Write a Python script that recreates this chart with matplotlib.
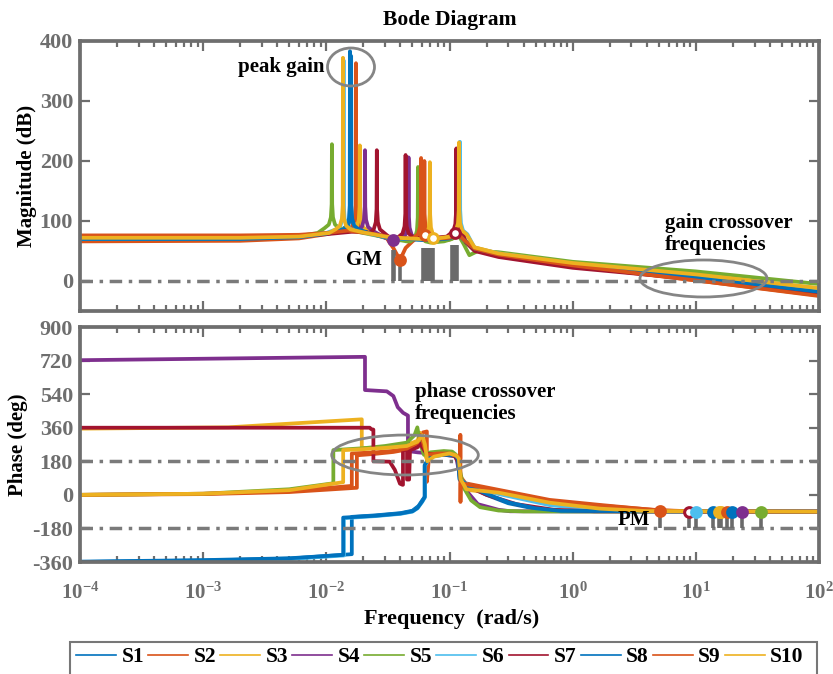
import matplotlib
matplotlib.use("Agg")
import numpy as np
import matplotlib.pyplot as plt
from matplotlib.patches import Ellipse, Rectangle
from matplotlib.lines import Line2D
from matplotlib.ticker import LogFormatterSciNotation, FixedLocator, NullFormatter

plt.rcParams.update({
    "font.family": ["Liberation Serif", "DejaVu Serif"],
    "font.weight": "bold",
    "mathtext.fontset": "custom",
    "mathtext.rm": "Liberation Serif:bold",
    "mathtext.it": "Liberation Serif:bold:italic",
    "mathtext.bf": "Liberation Serif:bold",
    "mathtext.default": "rm",
    "axes.unicode_minus": False,
})

# ---------------------------------------------------------------- series
series_names = ["S1", "S2", "S3", "S4", "S5", "S6", "S7", "S8", "S9", "S10"]
series_colors = ["#0072BD", "#D95319", "#EDB120", "#7E2F8E", "#77AC30",
                 "#4DBEEE", "#A2142F", "#0072BD", "#D95319", "#EDB120"]
freq_decades = [1e-4, 1e-3, 1e-2, 1e-1, 1e0, 1e1, 1e2]

# ---------------------------------------------------------------- magnitude (dB)
# smooth part of each magnitude curve
S1_mag_f = [1e-4, 2e-3, 6e-3, 0.010, 0.022, 0.030, 0.045, 0.070, 0.100, 0.117, 0.130, 0.160, 0.25, 1.0, 10.0, 100.0]
S1_mag_db = [69, 70, 73, 79, 80, 73, 70, 68, 71, 79, 70, 55, 45, 28, 6, -18]
S2_mag_f = [1e-4, 2e-3, 6e-3, 0.010, 0.024, 0.031, 0.035, 0.0396, 0.044, 0.050, 0.075, 0.100, 0.117, 0.130, 0.160, 0.25, 1.0, 10.0, 100.0]
S2_mag_db = [66, 67, 71, 78, 78, 71, 55, 35, 55, 66, 65, 69, 77, 68, 53, 44, 25, 1, -24]
S3_mag_f = [1e-4, 2e-3, 6e-3, 0.010, 0.015, 0.025, 0.035, 0.050, 0.060, 0.085, 0.105, 0.117, 0.130, 0.160, 0.25, 1.0, 10.0, 100.0]
S3_mag_db = [71, 72, 75, 80, 85, 79, 72, 70, 70, 70, 72, 79, 70, 56, 46, 30, 11, -12]
S4_mag_f = [1e-4, 2e-3, 6e-3, 0.010, 0.015, 0.030, 0.0345, 0.040, 0.060, 0.080, 0.105, 0.117, 0.130, 0.160, 0.25, 1.0, 10.0, 100.0]
S4_mag_db = [72, 72, 74, 79, 84, 72, 68, 68, 69, 70, 72, 79, 68, 52, 44, 27, 5, -19]
S5_mag_f = [1e-4, 2e-3, 6e-3, 0.0085, 0.016, 0.025, 0.035, 0.045, 0.070, 0.090, 0.105, 0.117, 0.130, 0.145, 0.170, 0.25, 1.0, 10.0, 100.0]
S5_mag_db = [70, 71, 75, 80, 84, 76, 70, 66, 64, 66, 70, 78, 62, 43, 50, 48, 32, 16, -5]
S6_mag_f = [1e-4, 2e-3, 6e-3, 0.010, 0.020, 0.030, 0.045, 0.070, 0.095, 0.130, 0.160, 0.25, 1.0, 10.0, 100.0]
S6_mag_db = [70, 71, 74, 80, 81, 73, 70, 69, 73, 70, 55, 46, 29, 8, -16]
S7_mag_f = [1e-4, 2e-3, 6e-3, 0.010, 0.016, 0.021, 0.032, 0.036, 0.055, 0.075, 0.095, 0.135, 0.160, 0.25, 1.0, 10.0, 100.0]
S7_mag_db = [74, 74, 75, 78, 82, 82, 74, 73, 72, 72, 74, 65, 50, 40, 22, 3, -22]
S8_mag_f = [1e-4, 2e-3, 6e-3, 0.010, 0.022, 0.030, 0.045, 0.070, 0.100, 0.117, 0.130, 0.160, 0.25, 1.0, 10.0, 100.0]
S8_mag_db = [70, 70, 73, 79, 80, 73, 70, 68, 71, 78, 69, 54, 45, 28, 6, -18]
S9_mag_f = [1e-4, 2e-3, 6e-3, 0.010, 0.015, 0.025, 0.035, 0.050, 0.075, 0.100, 0.117, 0.130, 0.160, 0.25, 1.0, 10.0, 100.0]
S9_mag_db = [76, 76, 77, 80, 84, 78, 72, 71, 70, 72, 79, 69, 54, 44, 26, 1, -25]
S10_mag_f = [1e-4, 2e-3, 6e-3, 0.0105, 0.020, 0.030, 0.045, 0.060, 0.080, 0.100, 0.135, 0.160, 0.25, 1.0, 10.0, 100.0]
S10_mag_db = [72, 72, 74, 80, 81, 74, 71, 70, 71, 74, 68, 56, 46, 30, 11, -12]

# resonance peaks: frequency, peak height, level at the foot of the peak
S1_pk_f, S1_pk_top, S1_pk_foot = [0.01556], [383], [86]
S2_pk_f, S2_pk_top, S2_pk_foot = [0.0174, 0.0625], [363, 200], [86, 72]
S3_pk_f, S3_pk_top, S3_pk_foot = [0.0187, 0.0693], [226, 198], [84, 71]
S4_pk_f, S4_pk_top, S4_pk_foot = [0.0206, 0.0465], [218, 206], [84, 71]
S5_pk_f, S5_pk_top, S5_pk_foot = [0.0111, 0.0555], [228, 190], [88, 66]
S6_pk_f, S6_pk_top, S6_pk_foot = [0.0138, 0.1215], [368, 232], [86, 78]
S7_pk_f, S7_pk_top, S7_pk_foot = [0.0257, 0.044, 0.1137], [218, 210, 221], [80, 73, 77]
S8_pk_f, S8_pk_top, S8_pk_foot = [0.0159], [375], [86]
S9_pk_f, S9_pk_top, S9_pk_foot = [0.0588], [205], [72]
S10_pk_f, S10_pk_top, S10_pk_foot = [0.01365, 0.1195], [372, 231], [86, 78]

# ---------------------------------------------------------------- phase (deg)
S1_ph_f = [1e-4, 1e-3, 5e-3, 0.0161, 0.0161, 0.025, 0.040, 0.050, 0.056, 0.060, 0.0632, 0.0632, 0.070, 0.090, 0.110, 0.117, 0.121, 0.140, 0.200, 0.300, 0.500, 0.800, 100]
S1_ph_deg = [-360, -352, -342, -318, -118, -110, -98, -85, -60, -30, -10, 150, 205, 215, 210, 192, 80, 50, 0, -45, -75, -88, -90]
S2_ph_f = [1e-4, 1e-3, 5e-3, 0.0177, 0.0177, 0.025, 0.035, 0.045, 0.055, 0.061, 0.0655, 0.0655, 0.068, 0.075, 0.090, 0.110, 0.117, 0.122, 0.135, 0.250, 0.650, 1.67, 5.1, 10, 100]
S2_ph_deg = [0, 4, 15, 38, 212, 220, 230, 243, 270, 335, 340, 70, 195, 212, 220, 215, 200, 100, 62, 27, -27, -54, -84, -89, -90]
S3_ph_f = [1e-4, 1.6e-3, 0.0194, 0.0194, 0.025, 0.035, 0.045, 0.055, 0.0576, 0.060, 0.062, 0.066, 0.075, 0.100, 0.113, 0.119, 0.123, 0.137, 0.250, 0.650, 1.67, 4.0, 100]
S3_ph_deg = [355, 362, 405, 252, 250, 258, 268, 290, 333, 290, 230, 185, 212, 222, 210, 190, 80, 27, 8, -45, -76, -88, -90]
S4_ph_f = [1e-4, 0.0206, 0.0206, 0.031, 0.035, 0.038, 0.042, 0.046, 0.046, 0.055, 0.070, 0.100, 0.113, 0.120, 0.130, 0.170, 0.250, 0.310, 100]
S4_ph_deg = [722, 740, 562, 555, 530, 470, 440, 425, 235, 228, 222, 218, 205, 120, 40, -50, -80, -88, -90]
S5_ph_f = [1e-4, 1e-3, 5e-3, 0.0114, 0.0114, 0.020, 0.030, 0.045, 0.052, 0.0548, 0.058, 0.062, 0.070, 0.090, 0.105, 0.113, 0.120, 0.130, 0.150, 0.177, 0.250, 0.400, 100]
S5_ph_deg = [0, 6, 30, 62, 240, 250, 262, 280, 320, 362, 270, 215, 228, 235, 232, 215, 150, 40, -30, -66, -84, -89, -90]
S6_ph_f = [1e-4, 1e-3, 5e-3, 0.0139, 0.0139, 0.025, 0.040, 0.050, 0.055, 0.060, 0.0630, 0.0630, 0.070, 0.090, 0.110, 0.117, 0.121, 0.140, 0.250, 0.650, 1.67, 3.0, 100]
S6_ph_deg = [-362, -354, -344, -325, -125, -114, -102, -90, -72, -38, -15, 155, 208, 214, 210, 194, 82, 55, 5, -55, -82, -89, -90]
S7_ph_f = [1e-4, 0.0225, 0.0232, 0.0241, 0.0241, 0.0327, 0.036, 0.0396, 0.0415, 0.0419, 0.0419, 0.0452, 0.0452, 0.047, 0.0478, 0.055, 0.0576, 0.065, 0.090, 0.110, 0.117, 0.122, 0.135, 0.200, 0.350, 0.700, 1.5, 100]
S7_ph_deg = [360, 360, 352, 350, 180, 178, 134, 60, 54, 54, 242, 242, 82, 82, 240, 255, 275, 220, 215, 208, 180, 80, 50, 0, -50, -80, -88, -90]
S8_ph_f = [1e-4, 1e-3, 5e-3, 0.0137, 0.0137, 0.025, 0.040, 0.050, 0.055, 0.060, 0.0628, 0.0628, 0.070, 0.090, 0.110, 0.117, 0.121, 0.140, 0.200, 0.300, 0.500, 0.800, 100]
S8_ph_deg = [-358, -350, -340, -322, -122, -112, -100, -88, -70, -35, -12, 160, 210, 215, 212, 195, 85, 52, 5, -40, -72, -86, -90]
S9_ph_f = [1e-4, 1e-3, 5e-3, 0.0161, 0.0161, 0.025, 0.035, 0.045, 0.055, 0.059, 0.062, 0.066, 0.080, 0.100, 0.118, 0.1225, 0.1225, 0.1228, 0.1232, 0.135, 0.250, 0.650, 1.67, 5.0, 10, 100]
S9_ph_deg = [0, 6, 20, 48, 222, 228, 236, 248, 280, 322, 262, 215, 222, 222, 205, 195, 322, -38, 65, 58, 22, -32, -58, -82, -89, -90]
S10_ph_f = [1e-4, 1e-3, 5e-3, 0.0137, 0.0137, 0.020, 0.030, 0.045, 0.055, 0.060, 0.0632, 0.066, 0.075, 0.100, 0.113, 0.119, 0.123, 0.137, 0.250, 0.650, 1.67, 4.0, 100]
S10_ph_deg = [0, 6, 25, 68, 240, 245, 252, 262, 285, 320, 270, 180, 205, 222, 212, 195, 85, 30, 12, -42, -74, -87, -90]

# ---------------------------------------------------------------- stability margins
# gain margin points (frequency, magnitude) and their series
gm_series = ["S4", "S2", "S9", "S10", "S7"]
gm_f = [0.0345, 0.0396, 0.0632, 0.0734, 0.111]
gm_db = [68, 35, 77, 72, 80]
gm_line_f = [0.0345, 0.0356, 0.0396, 0.061, 0.063, 0.065, 0.067, 0.069, 0.071, 0.073, 0.105, 0.108, 0.111, 0.114]
gm_line_top = [52, 52, 30, 55, 55, 55, 55, 55, 55, 55, 60, 60, 60, 60]

# phase margin points (gain crossover frequency, phase) per series
pm_series = ["S2", "S7", "S6", "S1", "S10", "S3", "S9", "S8", "S4", "S5"]
pm_f = [5.1, 8.8, 10.0, 13.9, 15.3, 15.9, 17.9, 19.7, 23.9, 34.0]
pm_deg = [-84, -91, -91, -91, -91, -91, -91, -91, -91, -91]
pm_line_top = -104

mag_data = {n: (globals()[n + "_mag_f"], globals()[n + "_mag_db"],
                globals()[n + "_pk_f"], globals()[n + "_pk_top"], globals()[n + "_pk_foot"])
            for n in series_names}
ph_data = {n: (globals()[n + "_ph_f"], globals()[n + "_ph_deg"]) for n in series_names}
color_of = dict(zip(series_names, series_colors))

# relative shape of a lightly damped resonance (frequency ratio, rise above foot)
SKIRT_RATIO = [1 / 1.15, 1 / 1.06, 1 / 1.02, 1 / 1.005]
SKIRT_RISE = [0, 6, 18, 40]


def magnitude_path(f, db, pk_f, pk_top, pk_foot):
    pts = list(zip(f, db))
    for f0, top, foot in zip(pk_f, pk_top, pk_foot):
        lo, hi = f0 * SKIRT_RATIO[0], f0 / SKIRT_RATIO[0]
        pts = [p for p in pts if not (lo < p[0] < hi)]
        left = [(f0 * r, foot + d) for r, d in zip(SKIRT_RATIO, SKIRT_RISE)]
        right = [(f0 / r, foot + d) for r, d in zip(SKIRT_RATIO, SKIRT_RISE)]
        pts += left + [(f0, top)] + right
    pts.sort(key=lambda p: p[0])
    return [p[0] for p in pts], [p[1] for p in pts]


# ---------------------------------------------------------------- figure
W, H = 833, 674
fig = plt.figure(figsize=(W / 100, H / 100), dpi=100)


def fig_box(l, t, r, b):
    return [l / W, 1 - b / H, (r - l) / W, (b - t) / H]


ax_mag = fig.add_axes(fig_box(80, 41, 819, 311))
ax_ph = fig.add_axes(fig_box(80, 327, 819, 562))

AX_GRAY = "#6e6e6e"
REF_GRAY = "#7a7a7a"
LW = 2.7

for name in series_names:
    fx, fy = magnitude_path(*mag_data[name])
    ax_mag.plot(fx, fy, color=color_of[name], lw=LW, zorder=2, solid_joinstyle="round")
    px, py = ph_data[name]
    ax_ph.plot(px, py, color=color_of[name], lw=LW, zorder=2, solid_joinstyle="round")

# reference levels
dash = (0, (3.6, 1.9, 1.0, 1.9))
ax_mag.axhline(0, color=REF_GRAY, lw=2.5, ls=dash, zorder=3)
ax_ph.axhline(180, color=REF_GRAY, lw=2.5, ls=dash, zorder=3)
ax_ph.axhline(-180, color=REF_GRAY, lw=2.5, ls=dash, zorder=3)

# gain margin stems and markers
ax_mag.vlines(gm_line_f, 0, gm_line_top, colors="#6a6a6a", lw=2.6, zorder=3)
for s, f, v in zip(gm_series, gm_f, gm_db):
    hollow = s in ("S9", "S10", "S7")
    ax_mag.plot([f], [v], "o", ms=7, mew=2.2, color=color_of[s],
                mfc="white" if hollow else color_of[s], zorder=4)

# phase margin stems and markers
ax_ph.vlines(pm_f, -180, pm_line_top, colors="#6a6a6a", lw=2.6, zorder=3)
for s, f, v in zip(pm_series, pm_f, pm_deg):
    hollow = s == "S7"
    ax_ph.plot([f], [v], "o", ms=7, mew=2.2, color=color_of[s],
               mfc="white" if hollow else color_of[s], zorder=4)

# axes styling
minor_ticks = [d * k for d in freq_decades[:-1] for k in range(2, 10)]
for ax in (ax_mag, ax_ph):
    ax.set_xscale("log")
    ax.set_xlim(freq_decades[0], freq_decades[-1])
    ax.xaxis.set_major_locator(FixedLocator(freq_decades))
    ax.xaxis.set_minor_locator(FixedLocator(minor_ticks))
    ax.xaxis.set_minor_formatter(NullFormatter())
    ax.tick_params(which="both", direction="in", top=True, right=True,
                   color=AX_GRAY, width=1.6, labelcolor=AX_GRAY, labelsize=16)
    ax.tick_params(which="major", length=7)
    ax.tick_params(which="minor", length=4)
    for sp in ax.spines.values():
        sp.set_linewidth(2.7)
        sp.set_color(AX_GRAY)

ax_mag.set_ylim(-50, 400)
ax_mag.yaxis.set_major_locator(FixedLocator([0, 100, 200, 300, 400]))
ax_mag.tick_params(labelbottom=False)
ax_mag.tick_params(axis="y", pad=5)

ax_ph.set_ylim(-360, 900)
ax_ph.yaxis.set_major_locator(FixedLocator(list(range(-360, 901, 180))))
ax_ph.xaxis.set_major_formatter(LogFormatterSciNotation())
ax_ph.tick_params(axis="x", which="major", pad=14.5, labelsize=15)
ax_ph.tick_params(axis="y", pad=5)

ax_mag.set_ylabel("Magnitude (dB)", fontsize=15, fontweight="bold", color="black")
ax_mag.yaxis.set_label_coords((37 - 80) / 739, 0.5)
ax_ph.set_ylabel("Phase (deg)", fontsize=15, fontweight="bold", color="black")
ax_ph.yaxis.set_label_coords((28 - 80) / 739, 0.5)

fig.text(449.5 / W, 1 - 20 / H, "Bode Diagram", ha="center", va="center",
         fontsize=15.5, fontweight="bold")
fig.text(452 / W, 1 - 619 / H, "Frequency  (rad/s)", ha="center", va="center",
         fontsize=16, fontweight="bold")

# annotations
ax_mag.text(0.00975, 356, "peak gain", ha="right", va="center", fontsize=15, fontweight="bold", zorder=6)
ax_mag.text(0.0202, 35, "GM", ha="center", va="center", fontsize=15, fontweight="bold", zorder=6)
ax_mag.text(5.63, 78, "gain crossover\nfrequencies", ha="left", va="center",
            fontsize=15, fontweight="bold", linespacing=1.15, zorder=6)
ax_ph.text(0.0525, 492, "phase crossover\nfrequencies", ha="left", va="center",
           fontsize=15, fontweight="bold", linespacing=1.15, zorder=6)
ax_ph.text(3.15, -134, "PM", ha="center", va="center", fontsize=15, fontweight="bold", zorder=6)

ell_kw = dict(fill=False, edgecolor="#858585", lw=2.0, zorder=5)
ax_mag.add_patch(Ellipse((0.3667, 0.9037), 0.0636, 0.1407, transform=ax_mag.transAxes, **ell_kw))
ax_mag.add_patch(Ellipse((0.8437, 0.1204), 0.1719, 0.137, transform=ax_mag.transAxes, **ell_kw))
ax_ph.add_patch(Ellipse((0.4398, 0.4553), 0.1984, 0.170, transform=ax_ph.transAxes, **ell_kw))

# legend
handles = [Line2D([], [], color=c, lw=1.2) for c in series_colors]
fig.legend(handles, series_names, ncol=10, loc="center",
           bbox_to_anchor=(440 / W, 1 - 657 / H), frameon=False,
           prop={"size": 15.5, "weight": "bold"}, handlelength=1.85,
           handletextpad=0.25, columnspacing=0.2, borderpad=0, borderaxespad=0)
fig.add_artist(Rectangle((70 / W, -0.05), 747 / W, 0.05 + (1 - 642 / H),
                         transform=fig.transFigure, fill=False,
                         edgecolor="#777777", lw=1.5, clip_on=False))

fig.savefig("out.png", dpi=100)
